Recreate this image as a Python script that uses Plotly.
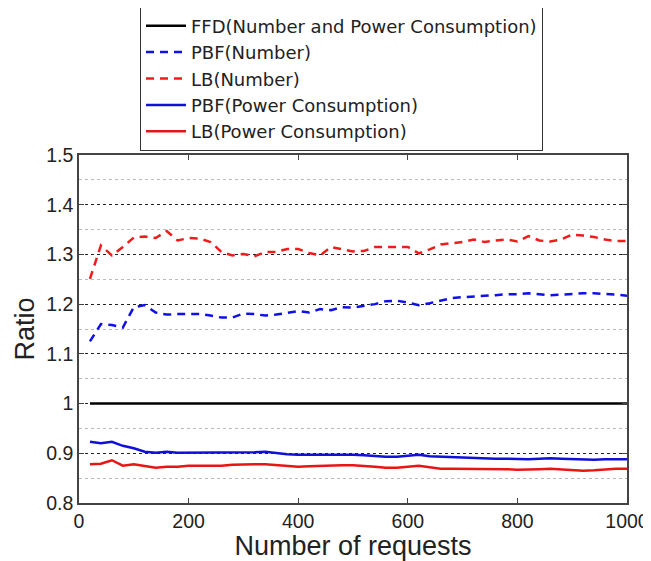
import plotly.graph_objects as go

x_requests = list(range(20, 1001, 20))

ffd = [1.0] * len(x_requests)

pbf_number = [1.125, 1.16, 1.158, 1.153, 1.194, 1.198, 1.183, 1.179, 1.18, 1.18,
              1.18, 1.177, 1.173, 1.173, 1.181, 1.18, 1.177, 1.179, 1.183, 1.186,
              1.183, 1.19, 1.188, 1.194, 1.193, 1.196, 1.2, 1.206, 1.207, 1.203,
              1.198, 1.202, 1.207, 1.212, 1.214, 1.215, 1.216, 1.218, 1.22, 1.22,
              1.222, 1.22, 1.218, 1.219, 1.221, 1.222, 1.222, 1.221, 1.219, 1.217]

lb_number = [1.251, 1.318, 1.298, 1.315, 1.334, 1.336, 1.333, 1.347, 1.328, 1.333,
             1.332, 1.325, 1.305, 1.298, 1.301, 1.296, 1.305, 1.305, 1.311, 1.311,
             1.303, 1.298, 1.315, 1.31, 1.306, 1.307, 1.315, 1.315, 1.315, 1.315,
             1.302, 1.31, 1.32, 1.323, 1.325, 1.33, 1.325, 1.328, 1.33, 1.326,
             1.337, 1.328, 1.326, 1.33, 1.34, 1.338, 1.335, 1.33, 1.327, 1.327]

pbf_power = [0.923, 0.92, 0.923, 0.915, 0.91, 0.903, 0.901, 0.903, 0.901, 0.901,
             0.901, 0.901, 0.901, 0.902, 0.902, 0.902, 0.903, 0.9, 0.898, 0.897,
             0.897, 0.897, 0.898, 0.898, 0.897, 0.896, 0.894, 0.893, 0.893, 0.895,
             0.897, 0.894, 0.893, 0.892, 0.891, 0.89, 0.89, 0.889, 0.889, 0.888,
             0.888, 0.889, 0.89, 0.889, 0.888, 0.887, 0.887, 0.888, 0.888, 0.888]

lb_power = [0.878, 0.879, 0.886, 0.875, 0.878, 0.875, 0.871, 0.873, 0.873, 0.875,
            0.875, 0.875, 0.875, 0.877, 0.878, 0.878, 0.878, 0.876, 0.875, 0.873,
            0.874, 0.875, 0.875, 0.876, 0.876, 0.875, 0.873, 0.871, 0.871, 0.873,
            0.875, 0.872, 0.869, 0.869, 0.869, 0.869, 0.869, 0.869, 0.868, 0.867,
            0.867, 0.868, 0.869, 0.868, 0.866, 0.865, 0.866, 0.868, 0.869, 0.869]

names = ["FFD(Number and Power Consumption)", "PBF(Number)", "LB(Number)",
         "PBF(Power Consumption)", "LB(Power Consumption)"]

x_ticks = [0, 200, 400, 600, 800, 1000]
y_ticks = [0.8, 0.9, 1.0, 1.1, 1.2, 1.3, 1.4, 1.5]
y_tick_labels = ["0.8", "0.9", "1", "1.1", "1.2", "1.3", "1.4", "1.5"]

fig = go.Figure()
series = [
    (ffd, "black", "solid"),
    (pbf_number, "#1010e8", "dash"),
    (lb_number, "#f01c1c", "dash"),
    (pbf_power, "#1010d8", "solid"),
    (lb_power, "#e81515", "solid"),
]
for (vals, color, dash), name in zip(series, names):
    fig.add_trace(go.Scatter(
        x=x_requests, y=vals, mode="lines", name=name,
        line=dict(color=color, width=2.5, dash="solid" if dash == "solid" else "8px,6px"),
    ))

# The page body adds an 8px margin, so the figure is drawn 8px smaller
W, H = 643, 553
L, T = 71, 147
PW, PH = 548, 348
font_family = "Liberation Sans, Arial, sans-serif"
fig.update_layout(
    width=W, height=H,
    margin=dict(l=L, r=W - L - PW, t=T, b=H - T - PH, autoexpand=False),
    paper_bgcolor="white", plot_bgcolor="white",
    font=dict(family=font_family, color="#222", size=19.5),
    showlegend=True,
    legend=dict(
        x=(132 - L) / PW, xanchor="left",
        y=(T + PH + 1.5) / PH, yanchor="top",
        bordercolor="#333", borderwidth=1,
        bgcolor="white",
        font=dict(size=18, family="DejaVu Sans, sans-serif", color="#222"),
        tracegroupgap=0,
        itemwidth=40,
    ),
    xaxis=dict(
        range=[0, 1000], tickvals=x_ticks, automargin=False,
        ticks="inside", ticklen=5, tickcolor="#444",
        showline=True, linecolor="#444", linewidth=1.5, mirror="ticks",
        showgrid=False, zeroline=False,
        title=dict(text="Number of requests", font=dict(size=27), standoff=0),
        tickfont=dict(size=19.5),
    ),
    yaxis=dict(
        range=[0.8, 1.5], tickvals=y_ticks, ticktext=y_tick_labels, automargin=False,
        ticks="inside", ticklen=5, tickcolor="#444",
        showline=True, linecolor="#444", linewidth=1.5, mirror="ticks",
        showgrid=True, gridcolor="#222", griddash="dot", gridwidth=1,
        zeroline=False,
        minor=dict(dtick=0.05, showgrid=True, gridcolor="#bbb", griddash="dot", gridwidth=1, ticks=""),
        title=dict(text="Ratio", font=dict(size=27), standoff=4),
        tickfont=dict(size=19.5),
    ),
)

fig.write_html("out.html")
